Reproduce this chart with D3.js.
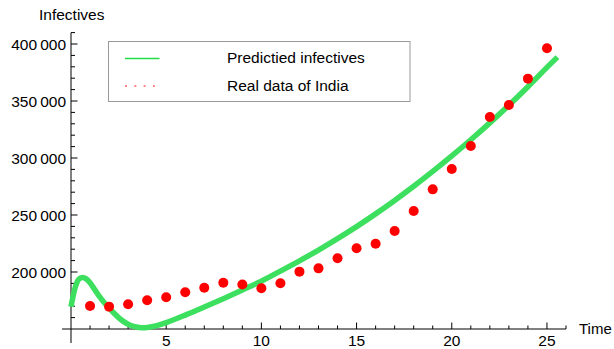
<!DOCTYPE html>
<html>
<head>
<meta charset="utf-8">
<script src="https://cdn.jsdelivr.net/npm/d3@7.9.0/dist/d3.min.js"></script>
<style>
  body { margin: 0; background: #fff; }
  svg { display: block; font-family: 'Liberation Sans', Arial, sans-serif; }
</style>
</head>
<body>
<svg id="chart" width="614" height="349"></svg>
<script>
// real data of India (day, infectives)
const days = [1, 2, 3, 4, 5, 6, 7, 8, 9, 10, 11, 12, 13, 14, 15, 16, 17, 18, 19, 20, 21, 22, 23, 24, 25];
const indiaCases = [170200, 169600, 171700, 175200, 177800, 182200, 186200, 190500, 189000, 185700,
  190100, 200300, 203200, 212000, 220800, 224800, 236000, 253500, 272500, 290300,
  310500, 336000, 346500, 369600, 396200];

// predicted curve
const predTime = [0, 0.1, 0.25, 0.4, 0.6, 0.8, 1, 1.25, 1.5, 1.75, 2, 2.25, 2.5, 2.75, 3, 3.3, 3.7, 4, 4.5,
  5, 6, 7, 8, 9, 10, 11, 12, 13, 14, 15, 16, 17, 18, 19, 20, 21, 22, 23, 24, 25, 25.55];
const predCases = [169500, 178000, 188000, 193500, 195200, 194000, 190500, 184500, 178300, 173000, 168500,
  164000, 160000, 156700, 154200, 152300, 151200, 151400, 153000,
  155600, 162200, 169300, 176600, 184200, 192000, 200800, 209800, 219200, 229200, 239800,
  251000, 262800, 275200, 288200, 301800, 316000, 330800, 346300, 362500, 379500, 388500];

const xMajor = [5, 10, 15, 20, 25];
const yMajor = [200000, 250000, 300000, 350000, 400000];
const legendLabels = ['Predictied infectives', 'Real data of India'];

const svg = d3.select('#chart');
const x = d3.scaleLinear().domain([0, 26]).range([71, 566]);
const y = d3.scaleLinear().domain([150000, 400000]).range([329, 44]);
const fmt = (v) => d3.format(',')(v).replace(/,/g, '\u2009');
const fs = 15.5;

// axes lines
svg.append('line').attr('x1', x(-0.47)).attr('x2', x(26)).attr('y1', y(150000)).attr('y2', y(150000))
  .attr('stroke', '#000').attr('stroke-width', 1);
svg.append('line').attr('x1', x(0)).attr('x2', x(0)).attr('y1', 343).attr('y2', y(410000))
  .attr('stroke', '#000').attr('stroke-width', 1);

// x ticks
d3.range(1, 27).forEach((t) => {
  const major = xMajor.includes(t);
  svg.append('line').attr('x1', x(t)).attr('x2', x(t))
    .attr('y1', y(150000)).attr('y2', y(150000) - (major ? 6.5 : 3.5))
    .attr('stroke', '#000').attr('stroke-width', 1);
});
xMajor.forEach((t) => {
  svg.append('text').attr('x', x(t)).attr('y', 346).attr('text-anchor', 'middle')
    .attr('font-size', fs).text(t);
});

// y ticks
d3.range(160000, 410001, 10000).forEach((v) => {
  const major = yMajor.includes(v);
  svg.append('line').attr('x1', x(0)).attr('x2', x(0) + (major ? 6.5 : 4))
    .attr('y1', y(v)).attr('y2', y(v))
    .attr('stroke', '#000').attr('stroke-width', 1);
});
yMajor.forEach((v) => {
  svg.append('text').attr('x', 66).attr('y', y(v) + 5.5).attr('text-anchor', 'end')
    .attr('font-size', fs).text(fmt(v));
});

svg.append('text').attr('x', 39).attr('y', 20).attr('font-size', fs).text('Infectives');
svg.append('text').attr('x', 579).attr('y', 334).attr('font-size', 15).text('Time');

// predicted curve
const line = d3.line().x((d) => x(d[0])).y((d) => y(d[1])).curve(d3.curveCatmullRom);
svg.append('path').datum(d3.zip(predTime, predCases))
  .attr('d', line).attr('fill', 'none').attr('stroke', '#3ddf5f').attr('stroke-width', 5.5);

// real data
svg.append('g').selectAll('circle').data(d3.zip(days, indiaCases)).join('circle')
  .attr('cx', (d) => x(d[0])).attr('cy', (d) => y(d[1])).attr('r', 5).attr('fill', '#ff0000');

// legend
const lg = svg.append('g');
lg.append('rect').attr('x', 108.5).attr('y', 41.5).attr('width', 301.5).attr('height', 60)
  .attr('fill', '#fff').attr('stroke', '#999').attr('stroke-width', 1);
lg.append('line').attr('x1', 125).attr('x2', 159.5).attr('y1', 58.5).attr('y2', 58.5)
  .attr('stroke', '#22dd44').attr('stroke-width', 1.5);
lg.append('line').attr('x1', 125).attr('x2', 155).attr('y1', 86).attr('y2', 86)
  .attr('stroke', '#ff8888').attr('stroke-width', 2).attr('stroke-dasharray', '2,7.3');
legendLabels.forEach((s, i) => {
  lg.append('text').attr('x', 227).attr('y', 63 + i * 28).attr('font-size', fs).text(s);
});
</script>
</body>
</html>
